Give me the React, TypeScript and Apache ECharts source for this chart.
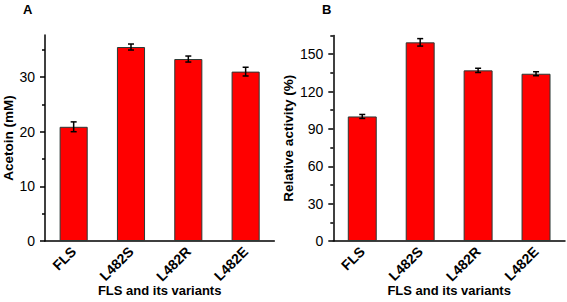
import React, { useEffect, useRef } from "react";
import * as echarts from "echarts";

const categories = ["FLS", "L482S", "L482R", "L482E"];
const acetoin = [20.9, 35.5, 33.3, 31.0];
const acetoinErr = [0.9, 0.55, 0.55, 0.8];
const activity = [100.0, 159.5, 137.0, 134.3];
const activityErr = [1.6, 3.0, 1.7, 1.6];
const ticksA = [0, 10, 20, 30];
const minorA = [5, 15, 25, 35];
const ticksB = [0, 30, 60, 90, 120, 150];
const minorB = [15, 45, 75, 105, 135, 165];

const FONT = 'Arial, "Liberation Sans", sans-serif';

function errData(vals: number[], errs: number[]) {
  return vals.map((v, i) => [i, v - errs[i], v + errs[i]]);
}

function errorRender(params: any, api: any) {
  const x = api.value(0);
  const lo = api.coord([x, api.value(1)]);
  const hi = api.coord([x, api.value(2)]);
  const w = 3;
  const style = { stroke: "#000", lineWidth: 1.5 };
  return {
    type: "group",
    children: [
      { type: "line", shape: { x1: lo[0], y1: lo[1], x2: hi[0], y2: hi[1] }, style },
      { type: "line", shape: { x1: hi[0] - w, y1: hi[1], x2: hi[0] + w, y2: hi[1] }, style },
      { type: "line", shape: { x1: lo[0] - w, y1: lo[1], x2: lo[0] + w, y2: lo[1] }, style },
    ],
  };
}

export default function App() {
  const ref = useRef<HTMLDivElement>(null);
  useEffect(() => {
    if (!ref.current) return;
    const chart = echarts.init(ref.current, undefined, { renderer: "svg" });

    const mkX = (grid: number) => [
      {
        type: "category",
        gridIndex: grid,
        data: categories,
        axisLine: { lineStyle: { color: "#000", width: 1.5 } },
        axisTick: { alignWithLabel: true, length: 5, lineStyle: { color: "#000", width: 1.5 } },
        axisLabel: {
          rotate: 45,
          margin: 8,
          color: "#000",
          fontWeight: "bold",
          fontSize: 14,
          fontFamily: FONT,
        },
        name: "FLS and its variants",
        nameLocation: "middle",
        nameGap: 43,
        nameMoveOverlap: false,
        nameTextStyle: { color: "#000", fontWeight: "bold", fontSize: 13, fontFamily: FONT },
      },
      {
        type: "category",
        gridIndex: grid,
        data: categories,
        position: "bottom",
        axisLine: { show: false },
        axisTick: { length: 3, lineStyle: { color: "#000", width: 1.5 } },
        axisLabel: { show: false },
      },
    ];

    const mkY = (grid: number, max: number, ticks: number[], minor: number[], name: string, gap: number) => [
      {
        type: "value",
        gridIndex: grid,
        min: 0,
        max,
        splitLine: { show: false },
        axisLine: { show: true, lineStyle: { color: "#000", width: 1.5 } },
        axisTick: { show: true, length: 5, customValues: ticks, lineStyle: { color: "#000", width: 1.5 } },
        axisLabel: {
          customValues: ticks,
          margin: 10,
          color: "#000",
          fontSize: 14,
          fontFamily: FONT,
        },
        name,
        nameLocation: "middle",
        nameGap: gap,
        nameMoveOverlap: false,
        nameTextStyle: { color: "#000", fontWeight: "bold", fontSize: 13.5, fontFamily: FONT },
      },
      {
        type: "value",
        gridIndex: grid,
        min: 0,
        max,
        position: "left",
        splitLine: { show: false },
        axisLine: { show: false },
        axisTick: { show: true, length: 3, customValues: minor, lineStyle: { color: "#000", width: 1.5 } },
        axisLabel: { show: false },
      },
    ];

    const barStyle = { color: "#ff0000", borderColor: "#2b3a36", borderWidth: 1 };

    chart.setOption({
      animation: false,
      grid: [
        { left: 45, top: 35, width: 229.3, height: 207.3 },
        { left: 333.3, top: 35.5, width: 231.7, height: 206.8 },
      ],
      xAxis: [...mkX(0), ...mkX(1)],
      yAxis: [
        ...mkY(0, 37.7, ticksA, minorA, "Acetoin (mM)", 30),
        ...mkY(1, 165, ticksB, minorB, "Relative activity (%)", 38),
      ],
      graphic: [
        { type: "text", left: 23, top: 3, style: { text: "A", fontSize: 13, fontWeight: "bold", fontFamily: FONT, fill: "#000" } },
        { type: "text", left: 322, top: 3, style: { text: "B", fontSize: 13, fontWeight: "bold", fontFamily: FONT, fill: "#000" } },
      ],
      series: [
        { type: "bar", xAxisIndex: 0, yAxisIndex: 0, data: acetoin, barWidth: "49%", itemStyle: barStyle },
        {
          type: "custom",
          xAxisIndex: 0,
          yAxisIndex: 0,
          data: errData(acetoin, acetoinErr),
          renderItem: errorRender,
          z: 5,
        },
        { type: "bar", xAxisIndex: 2, yAxisIndex: 2, data: activity, barWidth: "50%", itemStyle: barStyle },
        {
          type: "custom",
          xAxisIndex: 2,
          yAxisIndex: 2,
          data: errData(activity, activityErr),
          renderItem: errorRender,
          z: 5,
        },
      ],
    });
    return () => chart.dispose();
  }, []);
  return (
    <div
      ref={ref}
      style={{ position: "absolute", left: 0, top: 0, width: 567, height: 302, background: "#fff" }}
    />
  );
}
